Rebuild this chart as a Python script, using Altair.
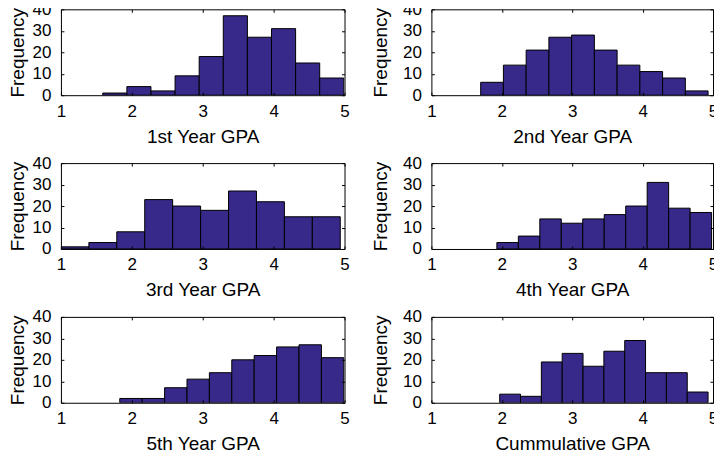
import altair as alt
import pandas as pd

titles = ["1st Year GPA", "2nd Year GPA", "3rd Year GPA",
          "4th Year GPA", "5th Year GPA", "Cummulative GPA"]
bin_lo = [1.59, 1.70, 1.00, 1.93, 1.83, 1.97]
bin_hi = [4.99, 4.93, 4.94, 4.98, 4.99, 4.93]
counts = [
    [1, 4, 2, 9, 18, 37, 27, 31, 15, 8],
    [6, 14, 21, 27, 28, 21, 14, 11, 8, 2],
    [1, 3, 8, 23, 20, 18, 27, 22, 15, 15],
    [3, 6, 14, 12, 14, 16, 20, 31, 19, 17],
    [2, 2, 7, 11, 14, 20, 22, 26, 27, 21],
    [4, 3, 19, 23, 17, 24, 29, 14, 14, 5],
]
x_ticks = [1, 2, 3, 4, 5]
y_ticks = [0, 10, 20, 30, 40]

BAR = "#36298A"
FONT = "Liberation Sans"
H = 86


def panel(i, width, title_x):
    n = len(counts[i])
    step = (bin_hi[i] - bin_lo[i]) / n
    df = pd.DataFrame({
        "lo": [bin_lo[i] + k * step for k in range(n)],
        "hi": [bin_lo[i] + (k + 1) * step for k in range(n)],
        "count": counts[i],
        "base": [0] * n,
    })
    xs = alt.Scale(domain=[1, 5], nice=False, zero=False)
    ys = alt.Scale(domain=[0, 40], nice=False, zero=True)
    base = alt.Chart(df)
    bars = base.mark_rect(fill=BAR, stroke="black", strokeWidth=1, clip=True).encode(
        x=alt.X("lo:Q", scale=xs,
                axis=alt.Axis(values=x_ticks, title=titles[i], titleY=47,
                              titleBaseline="alphabetic", labelPadding=8, format="d",
                              ticks=False, domain=False)),
        x2="hi:Q",
        y=alt.Y("count:Q", scale=ys,
                axis=alt.Axis(values=y_ticks, title="Frequency", titleX=title_x,
                              titleBaseline="alphabetic", labelPadding=10, format="d",
                              ticks=False, domain=False)),
        y2="base:Q",
    )

    def tick_axis(orient, offset):
        return alt.Axis(values=x_ticks if orient in ("top", "bottom") else y_ticks,
                        orient=orient, offset=offset, labels=False, title=None,
                        domain=False, ticks=True, tickSize=3, tickWidth=1,
                        tickColor="black", zindex=2)

    # inward ticks: an axis whose group is moved onto the opposite edge
    inner1 = base.mark_rect(opacity=0).encode(
        x=alt.X("lo:Q", scale=xs, axis=tick_axis("top", -H)),
        x2="hi:Q",
        y=alt.Y("count:Q", scale=ys, axis=tick_axis("right", -width)),
        y2="base:Q",
    )
    inner2 = base.mark_rect(opacity=0).encode(
        x=alt.X("lo:Q", scale=xs, axis=tick_axis("bottom", -H)),
        x2="hi:Q",
        y=alt.Y("count:Q", scale=ys, axis=tick_axis("left", -width)),
        y2="base:Q",
    )
    return alt.layer(bars, inner1, inner2).resolve_axis(
        x="independent", y="independent").properties(width=width, height=H)


panels = []
for i in range(6):
    if i % 2 == 0:
        panels.append(panel(i, 284, -37.5))
    else:
        panels.append(panel(i, 282, -45))

chart = alt.concat(*panels, columns=2, spacing={"row": 68, "column": 87},
                   bounds="flush").properties(
    padding={"left": 0, "top": -9, "right": -5, "bottom": 0}
).configure(font=FONT).configure_view(
    stroke="black", strokeWidth=1
).configure_axis(
    grid=False, labelFlush=False,
    labelFont=FONT, labelFontSize=17, labelColor="black",
    titleFont=FONT, titleFontSize=19, titleFontWeight="normal", titleColor="black",
)

chart.save("out.html", embed_options={"renderer": "svg", "actions": False})
